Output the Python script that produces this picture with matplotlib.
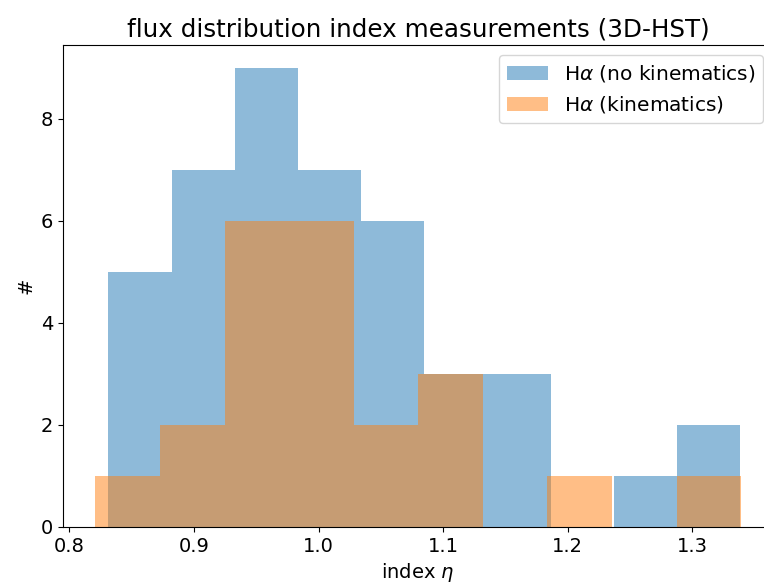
import numpy as np
import matplotlib
matplotlib.use("Agg")
import matplotlib.pyplot as plt

# histogram counts (10 bins each)
counts_nokin = [5, 7, 9, 7, 6, 3, 3, 0, 1, 2]
range_nokin = (0.8313, 1.3385)
counts_kin = [1, 2, 6, 6, 2, 3, 0, 1, 0, 1]
range_kin = (0.8208, 1.3393)

plt.rcParams['font.size'] = 14

fig = plt.figure(figsize=(7.64, 5.86), dpi=100)
ax = fig.add_axes([0.0825, 0.1007, 0.93, 0.8225])

edges_nokin = np.linspace(*range_nokin, len(counts_nokin) + 1)
edges_kin = np.linspace(*range_kin, len(counts_kin) + 1)

ax.hist(edges_nokin[:-1], bins=edges_nokin, weights=counts_nokin, alpha=0.5,
        color='tab:blue', label=r'H$\alpha$ (no kinematics)')
ax.hist(edges_kin[:-1], bins=edges_kin, weights=counts_kin, alpha=0.5,
        color='tab:orange', label=r'H$\alpha$ (kinematics)')

ax.set_title('flux distribution index measurements (3D-HST)', fontsize=17.7)
ax.set_xlabel(r'index $\eta$')
ax.set_ylabel('#')
ax.legend(loc='upper right', fontsize=14.5)

fig.savefig('out.png', dpi=100)
